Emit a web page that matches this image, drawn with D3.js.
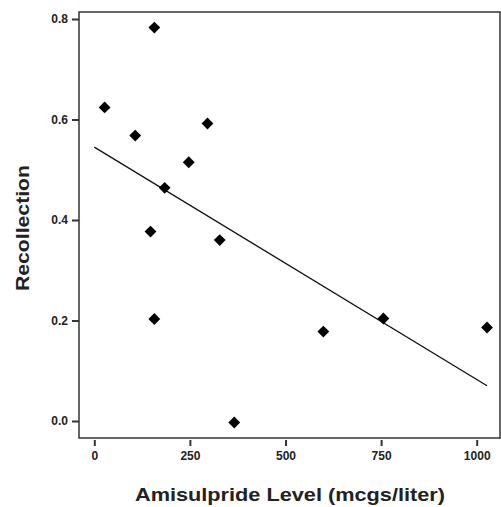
<!DOCTYPE html>
<html>
<head>
<meta charset="utf-8">
<script src="https://cdn.jsdelivr.net/npm/d3@7"></script>
<style>
  body { margin: 0; background: #fff; }
  svg text { font-family: "Liberation Sans", Arial, sans-serif; fill: #222; }
</style>
</head>
<body>
<div id="vis"></div>
<script>
// values
var level = [27, 157, 107, 296, 247, 184, 147, 328, 157, 366, 599, 756, 1027];
var recollection = [0.624, 0.783, 0.568, 0.592, 0.515, 0.464, 0.377, 0.360, 0.203, -0.003, 0.178, 0.204, 0.186];
var xTicks = [0, 250, 500, 750, 1000];
var yTicks = [0.0, 0.2, 0.4, 0.6, 0.8];

const width = 501, height = 507;
const frame = { left: 79, top: 12, right: 500, bottom: 438 };

var svg = d3.select("#vis")
  .append("svg")
  .attr("width", width)
  .attr("height", height);

// 0 -> 94.3px, 1000 -> 476.7px ; 0.0 -> 421px, 0.8 -> 19px
var x = d3.scaleLinear().domain([0, 1000]).range([94.3, 476.7]);
var y = d3.scaleLinear().domain([0, 0.8]).range([421, 19]);

var points = level.map(function(d, i) { return { x: d, y: recollection[i] }; });

// plot frame
svg.append("rect")
  .attr("x", frame.left)
  .attr("y", frame.top)
  .attr("width", frame.right - frame.left)
  .attr("height", frame.bottom - frame.top)
  .attr("fill", "none")
  .attr("stroke", "#333")
  .attr("stroke-width", 1.5);

// axes
var xAxis = svg.append("g")
  .attr("transform", "translate(0," + (frame.bottom + 1) + ")")
  .call(d3.axisBottom(x).tickValues(xTicks).tickSize(7).tickPadding(5).tickFormat(d3.format("d")));

var yAxis = svg.append("g")
  .attr("transform", "translate(" + frame.left + ",0)")
  .call(d3.axisLeft(y).tickValues(yTicks).tickSize(7).tickPadding(4).tickFormat(d3.format(".1f")));

[xAxis, yAxis].forEach(function(a) {
  a.select(".domain").remove();
  a.selectAll(".tick line").attr("stroke", "#333").attr("stroke-width", 2);
  a.selectAll(".tick text")
    .style("font-size", "12px")
    .style("font-weight", "bold")
    .attr("fill", "#333");
});
xAxis.selectAll(".tick line").attr("y1", 1);

// least squares fit line
var mx = d3.mean(level), my = d3.mean(recollection);
var sxy = d3.sum(points, function(d) { return (d.x - mx) * (d.y - my); });
var sxx = d3.sum(points, function(d) { return (d.x - mx) * (d.x - mx); });
var slope = sxy / sxx;
var intercept = my - slope * mx;
var fitX = [0, d3.max(level)];

svg.append("path")
  .datum(fitX)
  .attr("fill", "none")
  .attr("stroke", "#111")
  .attr("stroke-width", 1.3)
  .attr("d", d3.line()
    .x(function(d) { return x(d); })
    .y(function(d) { return y(intercept + slope * d); }));

// diamond markers
var diamond = d3.symbol().type(d3.symbolSquare).size(70);
svg.append("g")
  .selectAll("path")
  .data(points)
  .enter()
  .append("path")
  .attr("d", diamond)
  .attr("fill", "#000")
  .attr("transform", function(d) {
    return "translate(" + x(d.x) + "," + y(d.y) + ") rotate(45)";
  });

// axis titles (the original font is wider than Arial)
svg.append("text")
  .attr("x", 290)
  .attr("y", 501)
  .attr("text-anchor", "middle")
  .attr("textLength", 310)
  .attr("lengthAdjust", "spacingAndGlyphs")
  .style("font-size", "19px")
  .style("font-weight", "bold")
  .text("Amisulpride Level (mcgs/liter)");

svg.append("text")
  .attr("transform", "translate(29,228) rotate(-90)")
  .attr("text-anchor", "middle")
  .attr("textLength", 126)
  .attr("lengthAdjust", "spacingAndGlyphs")
  .style("font-size", "19px")
  .style("font-weight", "bold")
  .text("Recollection");
</script>
</body>
</html>
